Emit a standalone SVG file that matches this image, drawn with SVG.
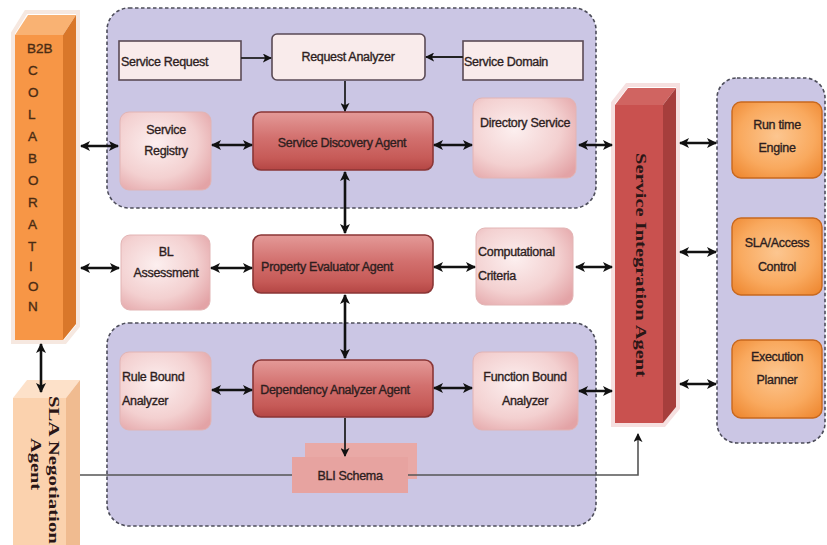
<svg xmlns="http://www.w3.org/2000/svg" width="827" height="545" viewBox="0 0 827 545">
<defs>
  <style>
    .t{font-family:"Liberation Sans",Arial,sans-serif;font-size:12.5px;fill:#2e1e1e;stroke:#2e1e1e;stroke-width:0.35px;letter-spacing:-0.3px}
    .tc{text-anchor:middle}
    .cont{fill:#cbc6e4;stroke:#4d4d5a;stroke-width:1.6;stroke-dasharray:3.5 2.5}
    .plain{fill:#f9ebeb;stroke:#5a4a55;stroke-width:1.6}
    .light{fill:url(#gLight);stroke:#e2b4b4;stroke-width:1}
    .agent{fill:url(#gAgent);stroke:#8a3636;stroke-width:1.6}
    .orange{fill:url(#gOrange);stroke:#c8681e;stroke-width:1.4}
    .dbl{stroke:#111;stroke-width:2.6;fill:none;marker-start:url(#ah);marker-end:url(#ah)}
    .one{stroke:#222;stroke-width:1.8;fill:none;marker-end:url(#ah2)}
    .thin{stroke:#555;stroke-width:1.6;fill:none}
    .serif{font-family:"Liberation Serif","Times New Roman",serif;font-weight:bold;fill:#2a1616}
  </style>
  <radialGradient id="gLight" cx="0.4" cy="0.4" r="0.75">
    <stop offset="0" stop-color="#fcefef"/>
    <stop offset="0.6" stop-color="#f3d0d0"/>
    <stop offset="1" stop-color="#e3a3a6"/>
  </radialGradient>
  <linearGradient id="gAgent" x1="0" y1="0" x2="0" y2="1">
    <stop offset="0" stop-color="#e49a98"/>
    <stop offset="0.45" stop-color="#d2706e"/>
    <stop offset="0.8" stop-color="#c65a57"/>
    <stop offset="1" stop-color="#b44644"/>
  </linearGradient>
  <radialGradient id="gOrange" cx="0.5" cy="0.45" r="0.7">
    <stop offset="0" stop-color="#fcc690"/>
    <stop offset="0.6" stop-color="#f9a95e"/>
    <stop offset="1" stop-color="#ee8730"/>
  </radialGradient>
  <marker id="ah" viewBox="0 0 10 10" refX="9" refY="5" markerWidth="10" markerHeight="10" markerUnits="userSpaceOnUse" orient="auto-start-reverse">
    <path d="M0,0 L10,5 L0,10 L2.5,5 Z" fill="#111"/>
  </marker>
  <marker id="ah2" viewBox="0 0 10 10" refX="9" refY="5" markerWidth="9" markerHeight="9" markerUnits="userSpaceOnUse" orient="auto">
    <path d="M0,0 L10,5 L0,10 L2.5,5 Z" fill="#111"/>
  </marker>
</defs>

<rect width="827" height="545" fill="#ffffff"/>

<!-- containers -->
<g id="top-group"><rect class="cont" x="107" y="8" width="489" height="200" rx="22"/></g>
<g id="bottom-group"><rect class="cont" x="107" y="323" width="489" height="203" rx="22"/></g>
<g id="right-group"><rect class="cont" x="717" y="78" width="108" height="365" rx="20"/></g>

<!-- B2B column -->
<g id="b2b">
  <polygon points="13,342 13,33 26,12 78,12 78,326 65,342" fill="none" stroke="#f6e8e0" stroke-width="4"/>
  <polygon points="15,35 63,35 76,15 28,15" fill="#f9b273"/>
  <polygon points="63,35 76,15 76,324 63,340" fill="#d9772a"/>
  <rect x="15" y="35" width="48" height="305" fill="#f79646"/>
  <g class="t" style="font-size:13.5px;fill:#4a2c14;stroke:#4a2c14;letter-spacing:0">
    <text x="27" y="53">B2B</text>
    <text x="28" y="75">C</text><text x="28" y="97">O</text><text x="28" y="119">L</text>
    <text x="28" y="141">A</text><text x="28" y="163">B</text><text x="28" y="185">O</text>
    <text x="28" y="207">R</text><text x="28" y="229">A</text><text x="28" y="251">T</text>
    <text x="29" y="271">I</text><text x="28" y="291">O</text><text x="28" y="311">N</text>
  </g>
</g>

<!-- SLA Negotiation Agent -->
<g id="sla-negotiation">
  <polygon points="13,398 66,398 80,380 27,380" fill="#fde1c9"/>
  <polygon points="66,398 80,380 80,545 66,545" fill="#f0bb90"/>
  <rect x="13" y="398" width="53" height="147" fill="#fbd2ae"/>
  <text class="serif" transform="translate(49,470) rotate(90)" text-anchor="middle" textLength="148" lengthAdjust="spacingAndGlyphs" style="font-size:15px">SLA Negotiation</text>
  <text class="serif" transform="translate(31,464) rotate(90)" text-anchor="middle" textLength="52" lengthAdjust="spacingAndGlyphs" style="font-size:15px">Agent</text>
</g>

<!-- Service Integration Agent -->
<g id="service-integration">
  <polygon points="613,425 613,103 627,85 678,85 678,408 664,425" fill="none" stroke="#f6e0e0" stroke-width="4"/>
  <polygon points="615,105 663,105 676,88 628,88" fill="#d06461"/>
  <polygon points="663,105 676,88 676,407 663,423" fill="#a63e3c"/>
  <rect x="615" y="105" width="48" height="318" fill="#c9514f"/>
  <text class="serif" transform="translate(636,265) rotate(90)" text-anchor="middle" textLength="224" lengthAdjust="spacingAndGlyphs" style="font-size:15px">Service Integration Agent</text>
</g>

<!-- top group nodes -->
<g id="service-request"><rect class="plain" x="119" y="41" width="122" height="39"/><text class="t" x="121" y="66">Service Request</text></g>
<g id="request-analyzer"><rect class="plain" x="272" y="34" width="153" height="46" rx="5"/><text class="t tc" x="348" y="61">Request Analyzer</text></g>
<g id="service-domain"><rect class="plain" x="463" y="41" width="120" height="39"/><text class="t" x="464" y="66">Service Domain</text></g>
<g id="service-registry"><rect class="light" x="120" y="112" width="91" height="78" rx="9"/><text class="t tc" x="166" y="134">Service</text><text class="t tc" x="166" y="155">Registry</text></g>
<g id="service-discovery"><rect class="agent" x="253" y="112" width="180" height="58" rx="8"/><text class="t tc" x="342" y="147">Service Discovery Agent</text></g>
<g id="directory-service"><rect class="light" x="473" y="98" width="103" height="80" rx="9"/><text class="t tc" x="525" y="127">Directory Service</text></g>

<!-- middle row -->
<g id="bl-assessment"><rect class="light" x="121" y="235" width="89" height="75" rx="9"/><text class="t tc" x="166" y="256">BL</text><text class="t tc" x="166" y="277">Assessment</text></g>
<g id="property-evaluator"><rect class="agent" x="253" y="235" width="180" height="58" rx="8"/><text class="t tc" x="327" y="271">Property Evaluator Agent</text></g>
<g id="computational-criteria"><rect class="light" x="476" y="228" width="97" height="77" rx="9"/><text class="t" x="478" y="256">Computational</text><text class="t" x="478" y="280">Criteria</text></g>

<!-- bottom group nodes -->
<g id="rule-bound"><rect class="light" x="120" y="352" width="91" height="78" rx="9"/><text class="t" x="122" y="381">Rule Bound</text><text class="t" x="122" y="405">Analyzer</text></g>
<g id="dependency-analyzer"><rect class="agent" x="253" y="360" width="180" height="57" rx="8"/><text class="t tc" x="335" y="394">Dependency Analyzer Agent</text></g>
<g id="function-bound"><rect class="light" x="473" y="352" width="105" height="78" rx="9"/><text class="t tc" x="525" y="381">Function Bound</text><text class="t tc" x="525" y="405">Analyzer</text></g>
<g id="bli-schema">
  <rect x="305" y="443" width="112" height="36" fill="#e9a9a6"/>
  <rect x="292" y="457" width="116" height="36" fill="#e7a3a0"/>
  <text class="t tc" x="350" y="480">BLI Schema</text>
</g>

<!-- right group nodes -->
<g id="runtime-engine"><rect class="orange" x="732" y="102" width="90" height="76" rx="9"/><text class="t tc" x="777" y="129">Run time</text><text class="t tc" x="777" y="152">Engine</text></g>
<g id="sla-access"><rect class="orange" x="732" y="218" width="90" height="77" rx="9"/><text class="t tc" x="777" y="247">SLA/Access</text><text class="t tc" x="777" y="271">Control</text></g>
<g id="execution-planner"><rect class="orange" x="732" y="340" width="90" height="78" rx="9"/><text class="t tc" x="777" y="361">Execution</text><text class="t tc" x="777" y="384">Planner</text></g>

<!-- connectors -->
<g id="connectors">
  <line class="one" x1="241" y1="58" x2="271" y2="58"/>
  <line class="one" x1="463" y1="57" x2="426" y2="57"/>
  <line class="one" x1="345" y1="81" x2="345" y2="111"/>

  <line class="dbl" x1="81" y1="146" x2="118" y2="146"/>
  <line class="dbl" x1="212" y1="145" x2="252" y2="145"/>
  <line class="dbl" x1="434" y1="145" x2="472" y2="145"/>
  <line class="dbl" x1="579" y1="145" x2="612" y2="145"/>

  <line class="dbl" x1="345" y1="172" x2="345" y2="233"/>
  <line class="dbl" x1="345" y1="295" x2="345" y2="358"/>

  <line class="dbl" x1="81" y1="268" x2="119" y2="268"/>
  <line class="dbl" x1="211" y1="268" x2="252" y2="268"/>
  <line class="dbl" x1="434" y1="267" x2="475" y2="267"/>
  <line class="dbl" x1="576" y1="267" x2="612" y2="267"/>

  <line class="dbl" x1="212" y1="390" x2="252" y2="390"/>
  <line class="dbl" x1="434" y1="388" x2="472" y2="388"/>
  <line class="dbl" x1="579" y1="391" x2="612" y2="391"/>

  <line class="one" x1="345" y1="418" x2="345" y2="456"/>

  <line class="dbl" x1="41" y1="344" x2="41" y2="392"/>

  <line class="dbl" x1="680" y1="143" x2="716" y2="143"/>
  <line class="dbl" x1="680" y1="252" x2="716" y2="252"/>
  <line class="dbl" x1="680" y1="384" x2="716" y2="384"/>

  <line class="thin" x1="80" y1="475" x2="292" y2="475"/>
  <polyline class="thin" points="408,475 638,475 638,434" style="marker-end:url(#ah2)"/>
</g>
</svg>
